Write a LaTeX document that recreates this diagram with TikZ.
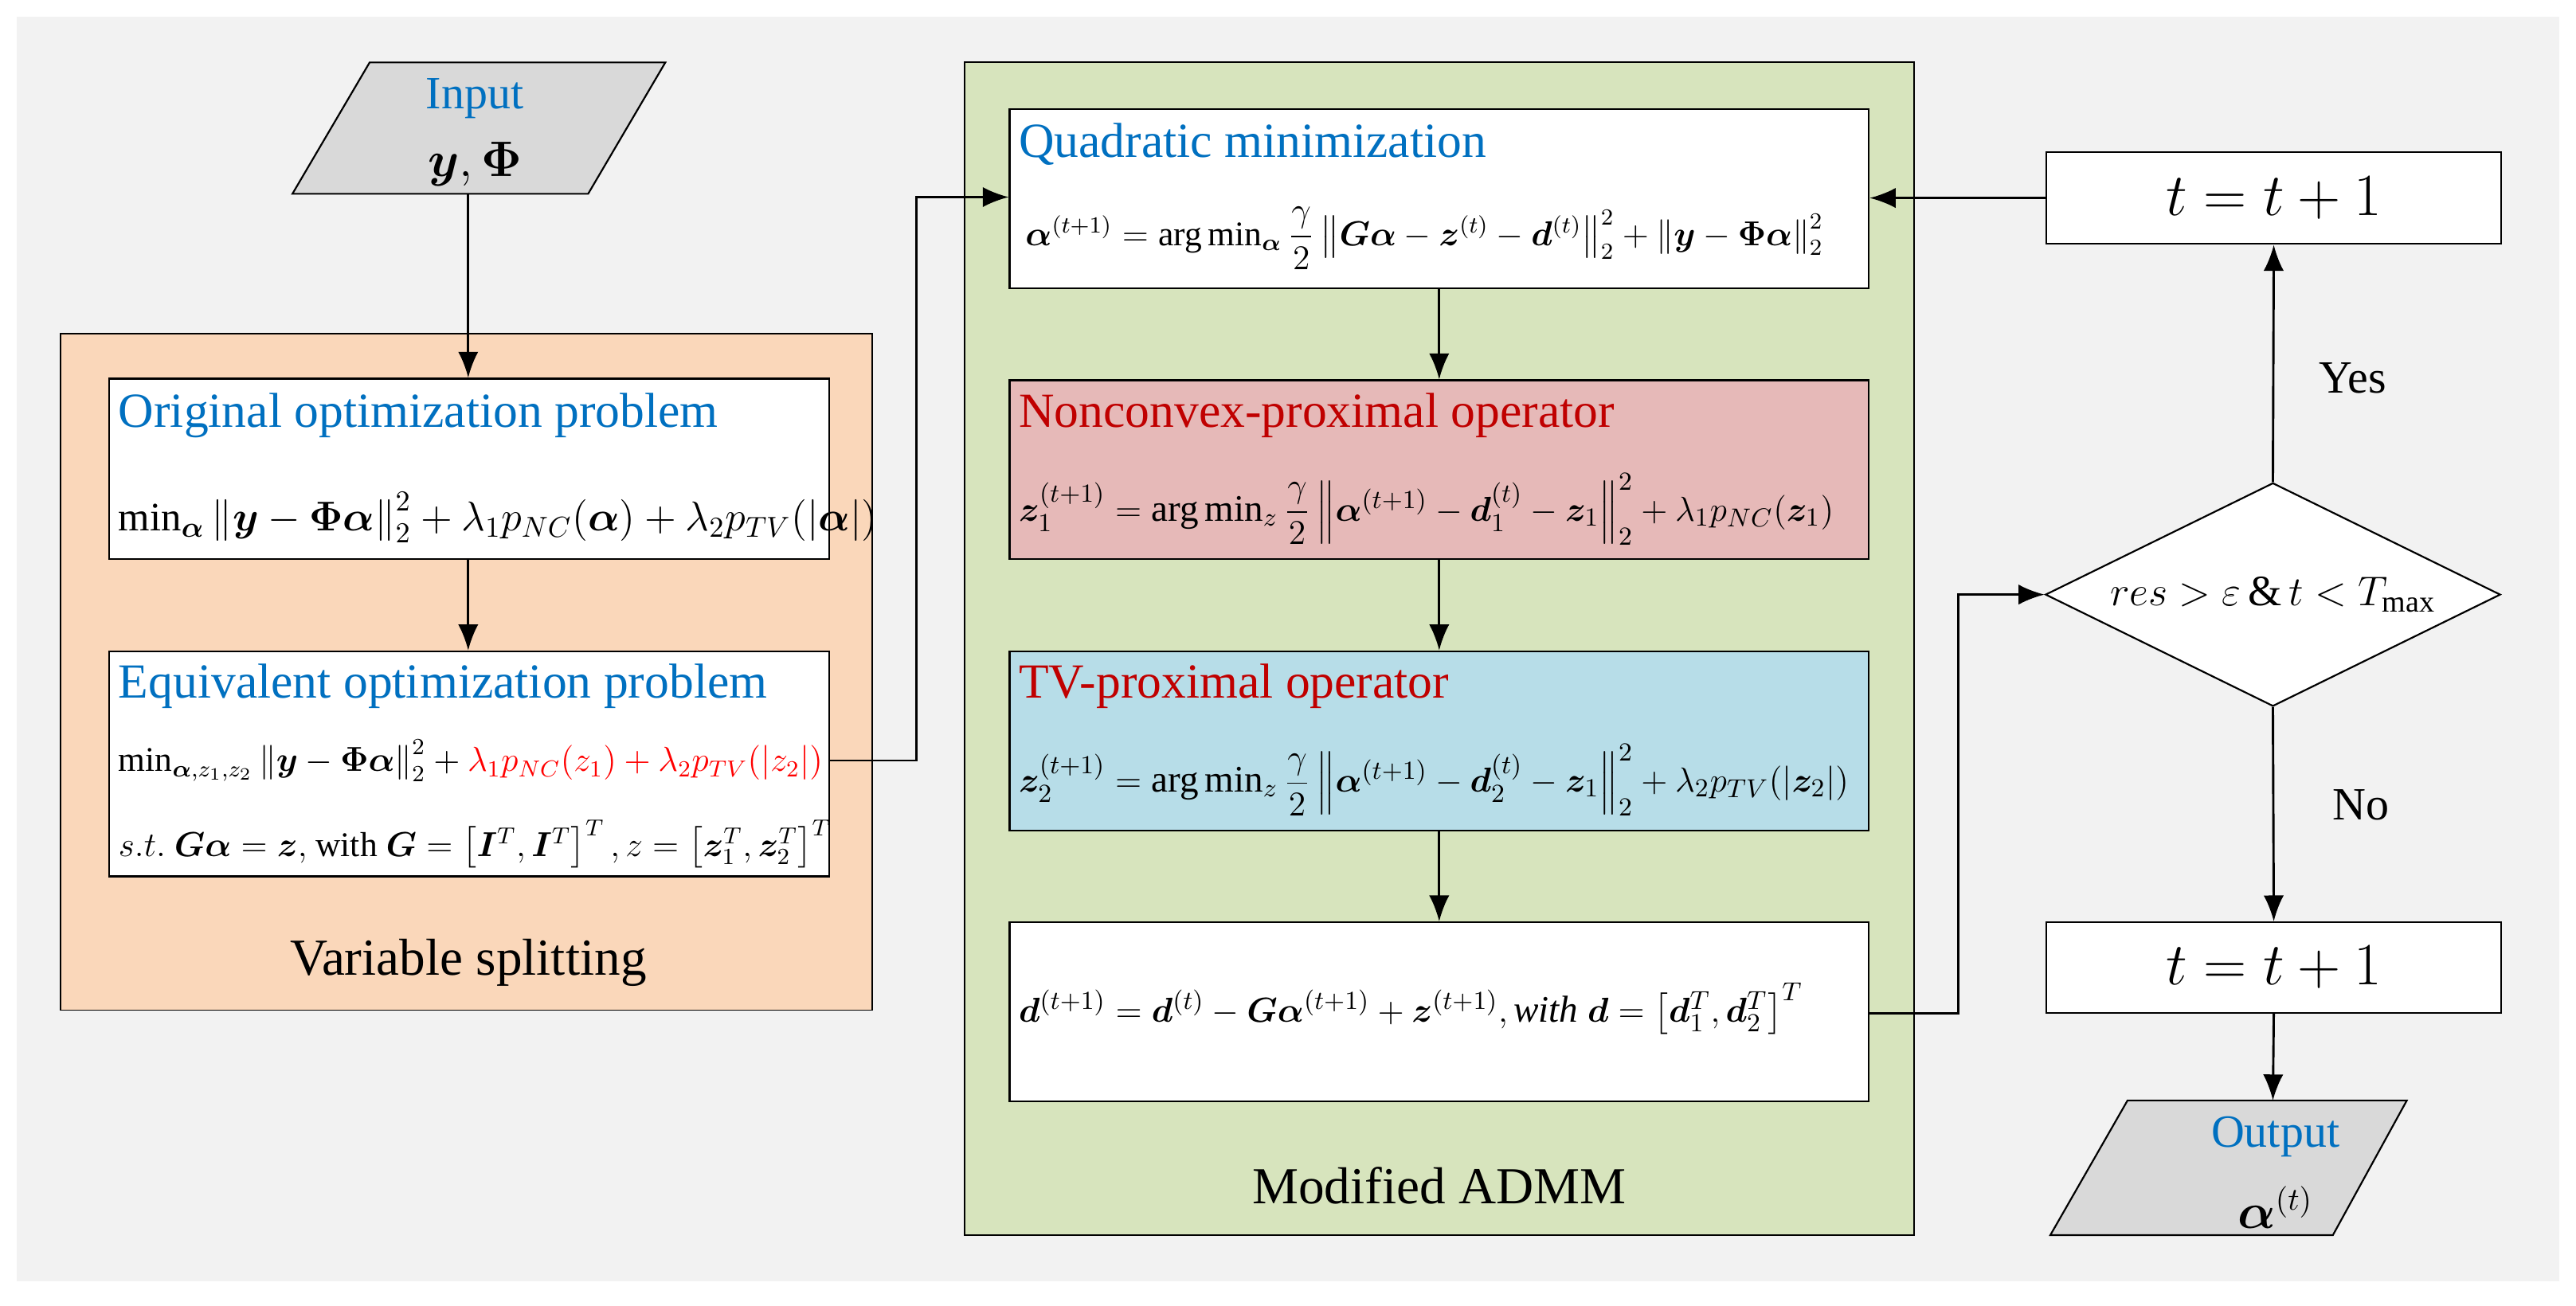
\documentclass[tikz,border=0pt]{standalone}
\usepackage{amsmath,bm}
\usepackage{fontspec}
\setmainfont{Liberation Serif}
\usetikzlibrary{arrows.meta,shapes.geometric}
\definecolor{ttl}{HTML}{0070C0}
\definecolor{rd}{HTML}{C00000}
\definecolor{orng}{HTML}{FAD7BA}
\definecolor{grn}{HTML}{D7E4BD}
\definecolor{pnk}{HTML}{E6B9B8}
\definecolor{blu}{HTML}{B7DDE8}
\definecolor{bg}{HTML}{F2F2F2}
\newcommand{\bal}{\bm{\alpha}}
\begin{document}
\begin{tikzpicture}[x=0.02cm,y=-0.02cm,
  box/.style={draw,line width=0.6pt,anchor=north west,inner sep=0pt},
  arr/.style={draw,line width=0.8pt,-{Latex[length=9pt,width=7pt]}},
  ttlt/.style={anchor=west,text=ttl,font=\rmfamily\fontsize{17}{20}\selectfont},
  rdt/.style={anchor=west,text=rd,font=\rmfamily\fontsize{17}{20}\selectfont},
  frm/.style={anchor=west,font=\rmfamily\fontsize{13}{16}\selectfont},
  big/.style={font=\rmfamily\fontsize{18}{22}\selectfont}]
\useasboundingbox (0,0) rectangle (1568,795);
\fill[white] (0,0) rectangle (1568,795);
\fill[bg] (10,10) rectangle (1558,780);
% containers
\draw[fill=orng,line width=0.5pt] (37,203) rectangle (531,615);
\node[big] (vs) at (285,586) {Variable splitting};
\draw[fill=grn,line width=0.5pt] (587,38) rectangle (1165,752);
\node[big] (ma) at (876,722) {Modified ADMM};
% input
\draw[fill=gray!30,line width=0.6pt] (225,38) -- (405,38) -- (358,118) -- (178,118) -- cycle;
\node[text=ttl,font=\rmfamily\fontsize{16}{19}\selectfont] (inT) at (289,60) {Input};
\node[font=\rmfamily\fontsize{17}{19}\selectfont] (in) at (289,100) {$\bm{y},\bm{\Phi}$};
\coordinate (inB) at (285,118);
% original
\node[box,fill=white,minimum width=438*0.02cm,minimum height=110*0.02cm] (orig) at (66,230) {};
\node[ttlt] (origT) at (66,253) {Original optimization problem};
\node[frm,font=\rmfamily\fontsize{14}{17}\selectfont] (origF) at (66,315) {$\min\nolimits_{\bal}\left\|\bm{y}-\bm{\Phi}\bal\right\|_2^2+\lambda_1 p_{NC}(\bal)+\lambda_2 p_{TV}(|\bal|)$};
% equivalent
\node[box,fill=white,minimum width=438*0.02cm,minimum height=137*0.02cm] (equ) at (66,396) {};
\node[ttlt] (equT) at (66,418) {Equivalent optimization problem};
\node[frm,font=\rmfamily\fontsize{12}{15}\selectfont] (equF) at (66,463) {$\min\nolimits_{\bal,z_1,z_2}\left\|\bm{y}-\bm{\Phi}\bal\right\|_2^2+{\color{red}\lambda_1 p_{NC}(z_1)+\lambda_2 p_{TV}(|z_2|)}$};
\node[frm,font=\rmfamily\fontsize{12}{15}\selectfont] (equG) at (66,514) {$s.t.\ \bm{G}\bal=\bm{z},$ with $\bm{G}=\left[\bm{I}^T,\bm{I}^T\right]^T, z=\left[\bm{z}_1^T,\bm{z}_2^T\right]^T$};
% ADMM boxes
\node[box,fill=white,minimum width=523*0.02cm,minimum height=109*0.02cm] (q) at (614,66) {};
\node[ttlt] (qT) at (614,88) {Quadratic minimization};
\node[frm,font=\rmfamily\fontsize{12}{15}\selectfont] (qF) at (618,145) {$\bal^{(t+1)}=\arg\min\nolimits_{\bal}\dfrac{\gamma}{2}\left\|\bm{G}\bal-\bm{z}^{(t)}-\bm{d}^{(t)}\right\|_2^2+\left\|\bm{y}-\bm{\Phi}\bal\right\|_2^2$};
\node[box,fill=pnk,minimum width=523*0.02cm,minimum height=109*0.02cm] (nc) at (614,231) {};
\node[rdt] (ncT) at (614,253) {Nonconvex-proximal operator};
\node[frm] (ncF) at (614,310) {$\bm{z}_1^{(t+1)}=\arg\min\nolimits_{z}\dfrac{\gamma}{2}\left\|\bal^{(t+1)}-\bm{d}_1^{(t)}-\bm{z}_1\right\|_2^2+\lambda_1 p_{NC}(\bm{z}_1)$};
\node[box,fill=blu,minimum width=523*0.02cm,minimum height=109*0.02cm] (tv) at (614,396) {};
\node[rdt] (tvT) at (614,418) {TV-proximal operator};
\node[frm] (tvF) at (614,475) {$\bm{z}_2^{(t+1)}=\arg\min\nolimits_{z}\dfrac{\gamma}{2}\left\|\bal^{(t+1)}-\bm{d}_2^{(t)}-\bm{z}_1\right\|_2^2+\lambda_2 p_{TV}(|\bm{z}_2|)$};
\node[box,fill=white,minimum width=523*0.02cm,minimum height=109*0.02cm] (dd) at (614,561) {};
\node[frm] (dF) at (614,614) {$\bm{d}^{(t+1)}=\bm{d}^{(t)}-\bm{G}\bal^{(t+1)}+\bm{z}^{(t+1)},\textit{with }\bm{d}=\left[\bm{d}_1^T,\bm{d}_2^T\right]^T$};
% right column
\node[box,fill=white,minimum width=277*0.02cm,minimum height=56*0.02cm,font=\rmfamily\fontsize{20}{24}\selectfont] (t1) at (1245,92) {$t=t+1$};
\node[draw,fill=white,diamond,aspect=2.04,inner sep=0pt,minimum width=277*0.02cm,minimum height=136*0.02cm,line width=0.6pt] (dia) at (1383.5,362) {};
\node[font=\rmfamily\fontsize{15}{18}\selectfont] (diaT) at (1383.5,362) {$res>\varepsilon\,\&\,t<T_{\max}$};
\node[box,fill=white,minimum width=277*0.02cm,minimum height=55*0.02cm,font=\rmfamily\fontsize{20}{24}\selectfont] (t2) at (1245,561) {$t=t+1$};
\draw[fill=gray!30,line width=0.6pt] (1295,670) -- (1465,670) -- (1420,752) -- (1248,752) -- cycle;
\node[text=ttl,font=\rmfamily\fontsize{16}{19}\selectfont] (outT) at (1385,692) {Output};
\node[font=\rmfamily\fontsize{16}{19}\selectfont] (out) at (1385,735) {$\bal^{(t)}$};
\coordinate (outTop) at (1383.5,670);
\node[font=\rmfamily\fontsize{16}{19}\selectfont] (yes) at (1432,230) {Yes};
\node[font=\rmfamily\fontsize{16}{19}\selectfont] (no) at (1437,490) {No};
% connectors
\draw[arr] (inB) -- (orig.north -| inB);
\draw[arr] (orig.south -| inB) -- (equ.north -| inB);
\draw[arr] (equ.east |- equF) -- (558,463) -- (558,120) -- (q.west |- 0,120);
\draw[arr] (q.south) -- (nc.north);
\draw[arr] (nc.south) -- (tv.north);
\draw[arr] (tv.south) -- (dd.north);
\draw[arr] (dd.east |- 0,617) -- (1192,617) -- (1192,362) -- (dia.west);
\draw[arr] (t1.west) -- (q.east |- t1.west);
\draw[arr] (dia.north) -- (t1.south);
\draw[arr] (dia.south) -- (t2.north);
\draw[arr] (t2.south) -- (outTop);
\end{tikzpicture}
\end{document}
